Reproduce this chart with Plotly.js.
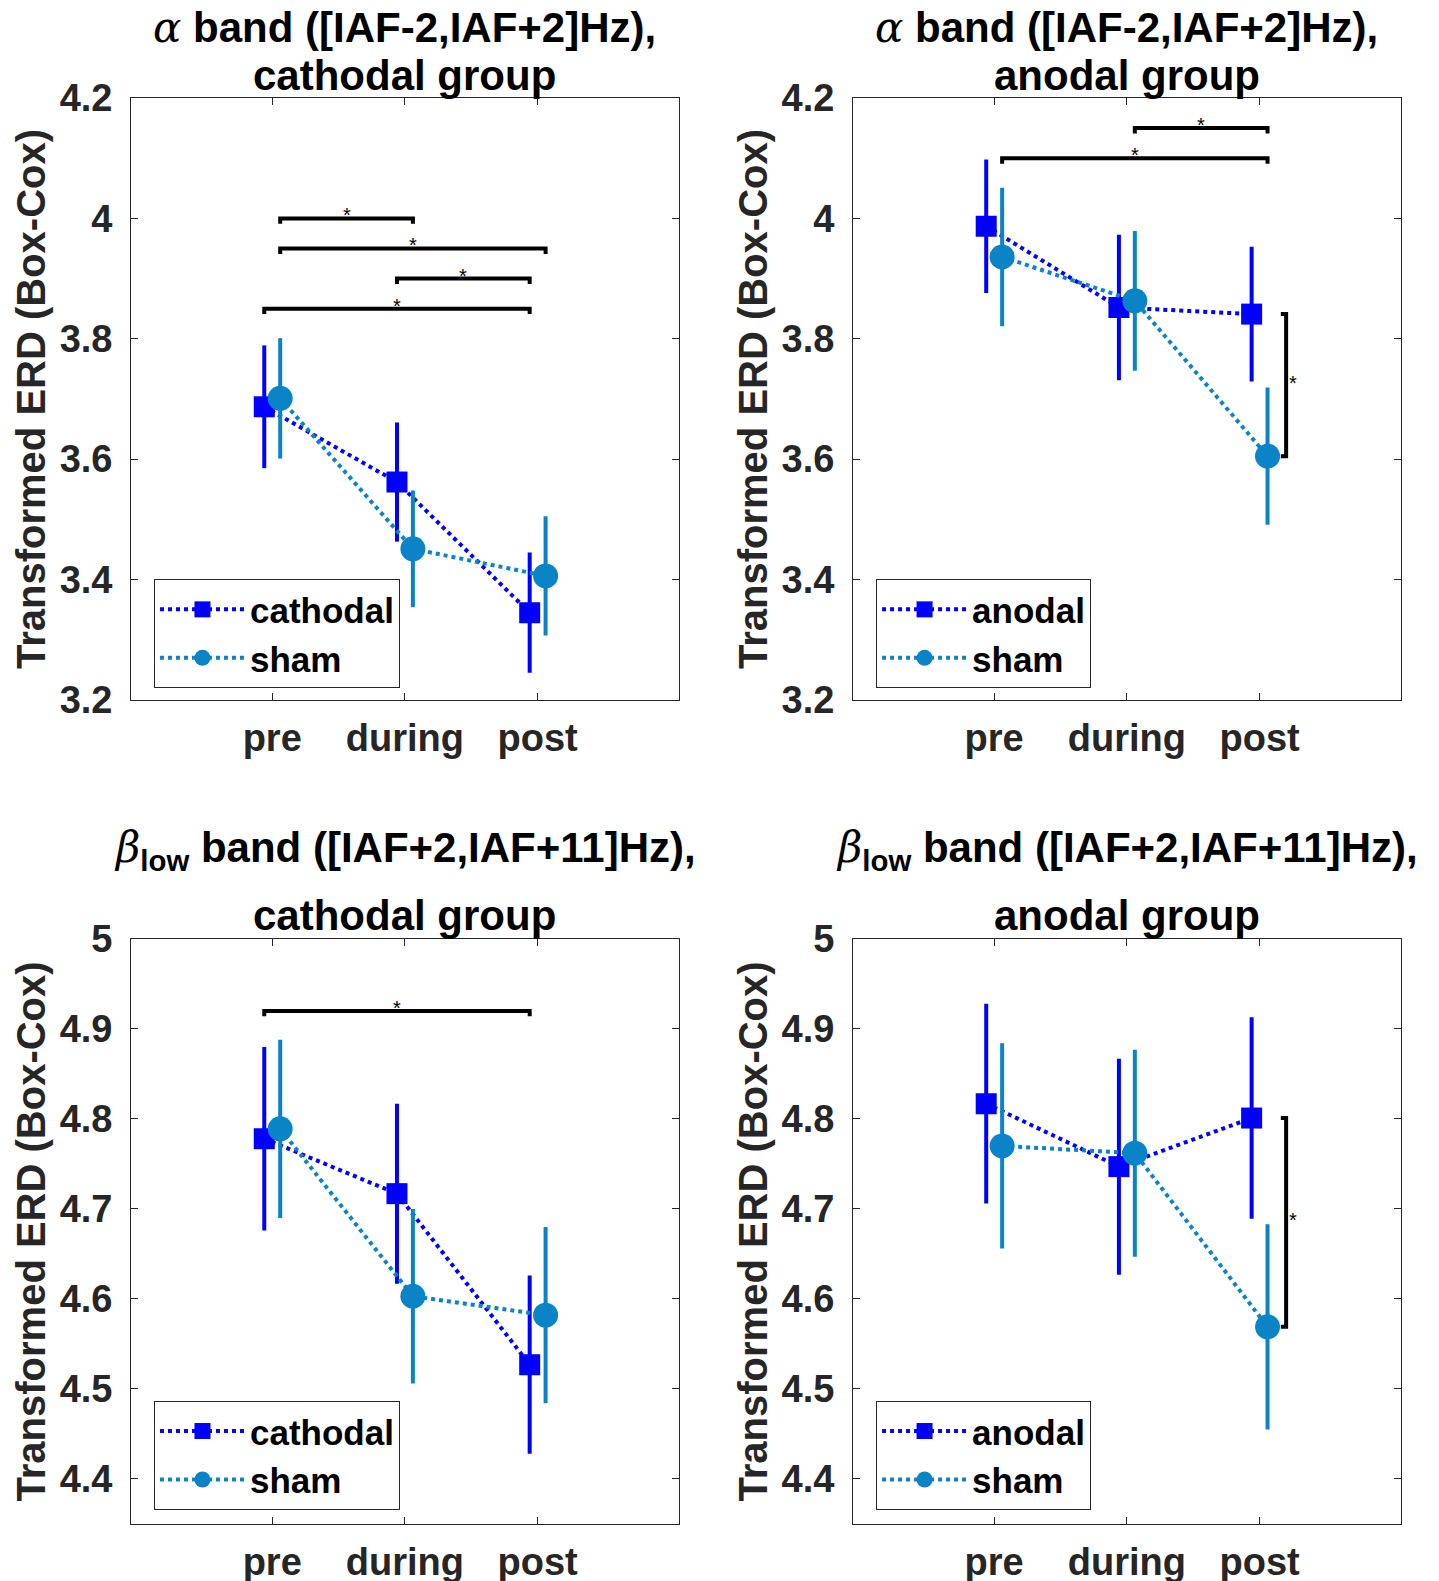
<!DOCTYPE html>
<html>
<head>
<meta charset="utf-8">
<script src="https://cdn.plot.ly/plotly-3.0.1.min.js"></script>
<style>
  html, body { margin: 0; padding: 0; background: #ffffff; }
  #chart { width: 1439px; height: 1581px; }
</style>
</head>
<body>
<div id="chart"></div>
<script>
// ---------------- data ----------------
const categories = ['pre', 'during', 'post'];

// alpha band, cathodal group
const alphaCathodalMean = [3.687, 3.562, 3.345];
const alphaCathodalErr  = [0.102, 0.099, 0.100];
const alphaCathShamMean = [3.701, 3.451, 3.406];
const alphaCathShamErr  = [0.100, 0.097, 0.099];

// alpha band, anodal group
const alphaAnodalMean   = [3.987, 3.852, 3.841];
const alphaAnodalErr    = [0.111, 0.121, 0.112];
const alphaAnoShamMean  = [3.936, 3.863, 3.605];
const alphaAnoShamErr   = [0.115, 0.116, 0.114];

// beta-low band, cathodal group
const betaCathodalMean  = [4.778, 4.717, 4.527];
const betaCathodalErr   = [0.102, 0.100, 0.099];
const betaCathShamMean  = [4.789, 4.603, 4.582];
const betaCathShamErr   = [0.099, 0.097, 0.098];

// beta-low band, anodal group
const betaAnodalMean    = [4.817, 4.747, 4.801];
const betaAnodalErr     = [0.111, 0.120, 0.112];
const betaAnoShamMean   = [4.770, 4.762, 4.569];
const betaAnoShamErr    = [0.114, 0.115, 0.114];

// y-axis ticks
const alphaTickVals = [3.2, 3.4, 3.6, 3.8, 4.0, 4.2];
const alphaTickText = ['3.2', '3.4', '3.6', '3.8', '4', '4.2'];
const betaTickVals  = [4.4, 4.5, 4.6, 4.7, 4.8, 4.9, 5.0];
const betaTickText  = ['4.4', '4.5', '4.6', '4.7', '4.8', '4.9', '5'];

// significant within-group comparisons: [group (0 = stim, 1 = sham), from index, to index, bracket level]
const alphaCathSig = [[1, 0, 1, 4.00], [1, 0, 2, 3.95], [0, 1, 2, 3.90], [0, 0, 2, 3.85]];
const alphaAnoSig  = [[1, 1, 2, 4.15], [1, 0, 2, 4.10]];
const betaCathSig  = [[0, 0, 2, 4.92]];
const betaAnoSig   = [];
// significant between-group comparisons (category index)
const alphaCathBetween = [];
const alphaAnoBetween  = [2];
const betaCathBetween  = [];
const betaAnoBetween   = [2];

// ---------------- styling ----------------
const FONT = 'Liberation Sans, Arial, sans-serif';
const STIM_COLOR = '#0000FF';
const SHAM_COLOR = '#0A84C6';
const AX_COLOR = '#262626';
const DODGE = 0.06;
const xRange = [-0.0635, 4.0635];

const panels = [
  {ax: '', stimName: 'cathodal', stimMean: alphaCathodalMean, stimErr: alphaCathodalErr,
   shamMean: alphaCathShamMean, shamErr: alphaCathShamErr, sig: alphaCathSig, between: alphaCathBetween,
   xd: [0.0911, 0.4717], yd: [0.5573, 0.9380], yr: [3.2, 4.2], tv: alphaTickVals, tt: alphaTickText,
   legend: 'legend', lx: 0.1070, ly: 0.6337, drop: 0.009, band: 'alpha', group: 'cathodal group'},
  {ax: '2', stimName: 'anodal', stimMean: alphaAnodalMean, stimErr: alphaAnodalErr,
   shamMean: alphaAnoShamMean, shamErr: alphaAnoShamErr, sig: alphaAnoSig, between: alphaAnoBetween,
   xd: [0.5928, 0.9734], yd: [0.5573, 0.9380], yr: [3.2, 4.2], tv: alphaTickVals, tt: alphaTickText,
   legend: 'legend2', lx: 0.6088, ly: 0.6337, drop: 0.009, band: 'alpha', group: 'anodal group'},
  {ax: '3', stimName: 'cathodal', stimMean: betaCathodalMean, stimErr: betaCathodalErr,
   shamMean: betaCathShamMean, shamErr: betaCathShamErr, sig: betaCathSig, between: betaCathBetween,
   xd: [0.0911, 0.4717], yd: [0.0361, 0.4061], yr: [4.35, 5.0], tv: betaTickVals, tt: betaTickText,
   legend: 'legend3', lx: 0.1070, ly: 0.1140, drop: 0.0060, band: 'beta', group: 'cathodal group'},
  {ax: '4', stimName: 'anodal', stimMean: betaAnodalMean, stimErr: betaAnodalErr,
   shamMean: betaAnoShamMean, shamErr: betaAnoShamErr, sig: betaAnoSig, between: betaAnoBetween,
   xd: [0.5928, 0.9734], yd: [0.0361, 0.4061], yr: [4.35, 5.0], tv: betaTickVals, tt: betaTickText,
   legend: 'legend4', lx: 0.6088, ly: 0.1140, drop: 0.0060, band: 'beta', group: 'anodal group'}
];

const traces = [];
const annotations = [];
const layout = {
  width: 1439, height: 1581,
  margin: {l: 0, r: 0, t: 0, b: 0},
  paper_bgcolor: '#ffffff', plot_bgcolor: '#ffffff',
  font: {family: FONT, color: AX_COLOR},
  showlegend: true,
  annotations: annotations
};

function xPos(groupIdx, catIdx) {
  return catIdx + 1 + (groupIdx === 0 ? -DODGE : DODGE);
}

panels.forEach(p => {
  const xa = 'x' + p.ax, ya = 'y' + p.ax;

  // significance brackets (drawn first)
  p.sig.forEach(s => {
    const x1 = xPos(s[0], s[1]), x2 = xPos(s[0], s[2]), y = s[3];
    traces.push({
      type: 'scatter', mode: 'lines', xaxis: xa, yaxis: ya, showlegend: false, hoverinfo: 'skip',
      x: [x1, x1, x2, x2], y: [y - p.drop, y, y, y - p.drop],
      line: {color: '#000000', width: 4}
    });
    annotations.push({
      xref: xa, yref: ya, x: (x1 + x2) / 2, y: y, text: '*', showarrow: false,
      yanchor: 'middle', yshift: 3, font: {family: FONT, size: 20, color: '#000000'}
    });
  });
  p.between.forEach(ci => {
    const xb = ci + 1 + 0.2;
    const xt = xb - 0.04;
    const y1 = p.stimMean[ci], y2 = p.shamMean[ci];
    traces.push({
      type: 'scatter', mode: 'lines', xaxis: xa, yaxis: ya, showlegend: false, hoverinfo: 'skip',
      x: [xt, xb, xb, xt], y: [y1, y1, y2, y2],
      line: {color: '#000000', width: 4}
    });
    annotations.push({
      xref: xa, yref: ya, x: xb, y: (y1 + y2) / 2, text: '*', showarrow: false,
      xanchor: 'left', xshift: 1, yanchor: 'middle', yshift: 2,
      font: {family: FONT, size: 20, color: '#000000'}
    });
  });

  // data series
  const series = [
    {name: p.stimName, mean: p.stimMean, err: p.stimErr, color: STIM_COLOR, symbol: 'square', size: 21, g: 0},
    {name: 'sham', mean: p.shamMean, err: p.shamErr, color: SHAM_COLOR, symbol: 'circle', size: 25, g: 1}
  ];
  series.forEach(s => {
    traces.push({
      type: 'scatter', mode: 'lines+markers', name: s.name, xaxis: xa, yaxis: ya,
      legend: p.legend,
      x: s.mean.map((_, i) => xPos(s.g, i)), y: s.mean,
      error_y: {type: 'data', array: s.err, visible: true, color: s.color, thickness: 4, width: 0},
      line: {color: s.color, width: 4, dash: 'dot'},
      marker: {color: s.color, symbol: s.symbol, size: s.size, line: {width: 0}}
    });
  });

  layout['xaxis' + p.ax] = {
    domain: p.xd, anchor: ya, range: xRange, tickmode: 'array', tickvals: [1, 2, 3], ticktext: categories,
    ticks: 'inside', ticklen: 7, tickwidth: 1, tickcolor: AX_COLOR,
    showline: true, linecolor: AX_COLOR, linewidth: 1, mirror: 'ticks',
    showgrid: false, zeroline: false, fixedrange: true,
    ticklabelstandoff: 4,
    tickfont: {family: FONT, size: 38, color: AX_COLOR, weight: 'bold'}
  };
  layout['yaxis' + p.ax] = {
    domain: p.yd, anchor: xa, range: p.yr, tickmode: 'array', tickvals: p.tv, ticktext: p.tt,
    ticks: 'inside', ticklen: 7, tickwidth: 1, tickcolor: AX_COLOR,
    showline: true, linecolor: AX_COLOR, linewidth: 1, mirror: 'ticks',
    showgrid: false, zeroline: false, fixedrange: true,
    ticklabelstandoff: 10,
    tickfont: {family: FONT, size: 38, color: AX_COLOR, weight: 'bold'},
    title: {text: 'Transformed ERD (Box-Cox)', standoff: 1,
            font: {family: FONT, size: 40, color: AX_COLOR, weight: 'bold'}}
  };
  layout[p.legend] = {
    x: p.lx, y: p.ly, xanchor: 'left', yanchor: 'top', xref: 'paper', yref: 'paper',
    bgcolor: '#ffffff', bordercolor: AX_COLOR, borderwidth: 1,
    itemwidth: 85, tracegroupgap: 0,
    font: {family: FONT, size: 35, color: '#000000', weight: 'bold'}
  };

  // two-line titles
  const cx = (p.xd[0] + p.xd[1]) / 2;
  const line1 = p.band === 'alpha'
    ? '<span style="font-family:\'DejaVu Serif\',serif;font-weight:normal"><i>α</i></span> band ([IAF-2,IAF+2]Hz),'
    : '<span style="font-family:\'DejaVu Serif\',serif;font-weight:normal"><i>β</i></span><sub>low</sub> band ([IAF+2,IAF+11]Hz),';
  const y1px = p.band === 'alpha' ? 28 : 850;
  const y2px = p.band === 'alpha' ? 75 : 915;
  annotations.push({
    xref: 'paper', yref: 'paper', x: cx, y: 1 - y1px / 1581, xanchor: 'center', yanchor: 'middle',
    text: line1, showarrow: false, font: {family: FONT, size: 42, color: '#000000', weight: 'bold'}
  });
  annotations.push({
    xref: 'paper', yref: 'paper', x: cx, y: 1 - y2px / 1581, xanchor: 'center', yanchor: 'middle',
    text: p.group, showarrow: false, font: {family: FONT, size: 42, color: '#000000', weight: 'bold'}
  });
});

Plotly.newPlot('chart', traces, layout, {staticPlot: true, displayModeBar: false});
</script>
</body>
</html>
